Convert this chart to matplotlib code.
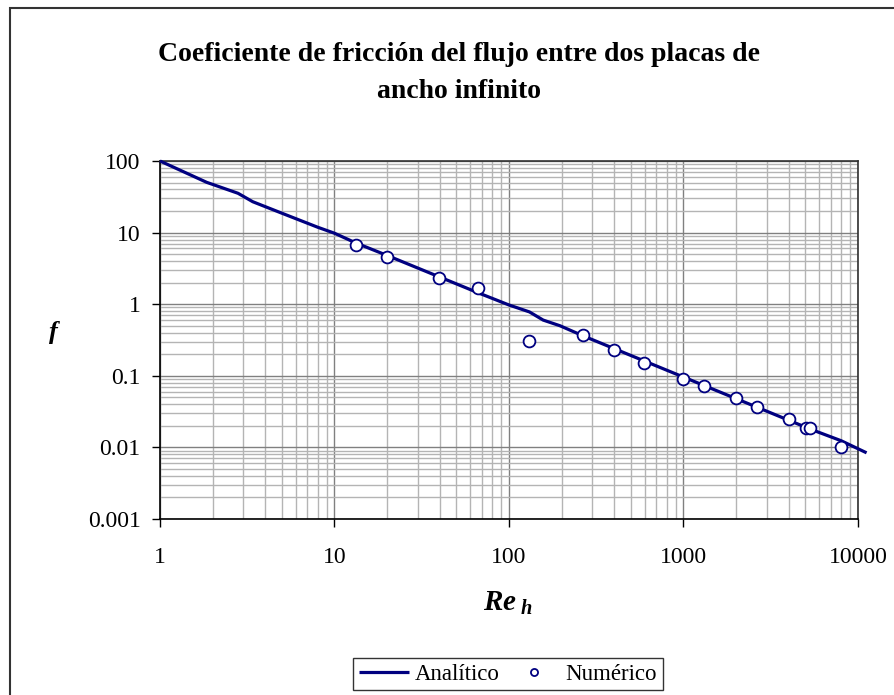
import matplotlib
matplotlib.use("Agg")
import matplotlib.pyplot as plt
from matplotlib.ticker import LogLocator, FixedLocator, FixedFormatter, NullFormatter
from matplotlib.patches import Rectangle

# ---- data ----
re_analitico = [1, 1.85, 2.8, 3.4, 4.9, 8, 10, 13.2, 20, 40, 66.7, 100, 131, 157, 196,
                264, 400, 600, 1000, 1315, 2000, 2626, 4000, 5000, 5300, 8000, 11200]
f_analitico = [100, 50.4, 35.4, 27, 19, 11.9, 9.8, 7.2, 4.8, 2.4, 1.44, 0.975, 0.78, 0.60, 0.50,
               0.364, 0.24, 0.16, 0.096, 0.073, 0.048, 0.0366, 0.024, 0.0192, 0.0181, 0.0124, 0.0084]

re_numerico = [13.2, 19.9, 39.9, 66.7, 131, 264, 398, 591, 993, 1315, 1991, 2626, 4007, 5012, 5309, 7990]
f_numerico = [6.78, 4.6, 2.34, 1.68, 0.309, 0.375, 0.229, 0.151, 0.0912, 0.072, 0.049, 0.0366,
              0.0252, 0.0188, 0.0188, 0.0101]

x_ticks = [1, 10, 100, 1000, 10000]
x_ticklabels = ["1", "10", "100", "1000", "10000"]
y_ticks = [0.001, 0.01, 0.1, 1, 10, 100]
y_ticklabels = ["0.001", "0.01", "0.1", "1", "10", "100"]

title_text = "Coeficiente de fricción del flujo entre dos placas de\nancho infinito"

# ---- style ----
plt.rcParams['font.family'] = ['Liberation Serif', 'DejaVu Serif']
plt.rcParams['mathtext.fontset'] = 'custom'
plt.rcParams['mathtext.it'] = 'Liberation Serif:italic:bold'
plt.rcParams['mathtext.rm'] = 'Liberation Serif:bold'

W, H = 895, 695
fig = plt.figure(figsize=(W / 100, H / 100), dpi=100)
fig.patch.set_facecolor('white')

# outer chart frame
fig.patches.append(Rectangle((10 / W, -0.02), 1.05, 1 - 8 / H + 0.02, transform=fig.transFigure,
                             fill=False, edgecolor='#333333', linewidth=1.5, zorder=0))

left, right, top, bottom = 160, 858, 161, 519
ax = fig.add_axes([left / W, 1 - bottom / H, (right - left) / W, (bottom - top) / H])

ax.set_xscale('log')
ax.set_yscale('log')
ax.set_xlim(1, 10000)
ax.set_ylim(0.001, 100)

ax.xaxis.set_major_locator(FixedLocator(x_ticks))
ax.xaxis.set_major_formatter(FixedFormatter(x_ticklabels))
ax.yaxis.set_major_locator(FixedLocator(y_ticks))
ax.yaxis.set_major_formatter(FixedFormatter(y_ticklabels))
ax.xaxis.set_minor_locator(LogLocator(base=10, subs=range(2, 10), numticks=20))
ax.yaxis.set_minor_locator(LogLocator(base=10, subs=range(2, 10), numticks=20))
ax.xaxis.set_minor_formatter(NullFormatter())
ax.yaxis.set_minor_formatter(NullFormatter())

ax.grid(True, which='minor', color='#b4b4b4', linewidth=1.0)
ax.grid(True, which='major', color='#808080', linewidth=1.0)
ax.set_axisbelow(True)

ax.tick_params(which='major', direction='out', length=6, width=1, colors='black',
               labelsize=17, pad=8)
ax.tick_params(axis='x', which='major', pad=14)
ax.tick_params(which='minor', length=0)

for s in ['left', 'bottom']:
    ax.spines[s].set_color('black')
    ax.spines[s].set_linewidth(1.2)
for s in ['top', 'right']:
    ax.spines[s].set_color('#303030')
    ax.spines[s].set_linewidth(1.2)

ax.plot(re_analitico, f_analitico, color='#000080', linewidth=2.3, label='Analítico',
        clip_on=False, zorder=3, solid_capstyle='butt')
ax.plot(re_numerico, f_numerico, linestyle='none', marker='o', markersize=8.5,
        markerfacecolor='white', markeredgecolor='#000080', markeredgewidth=1.3,
        label='Numérico', clip_on=False, zorder=4)

# axis labels
fig.text(53 / W, 1 - 333 / H, 'f', fontsize=19, fontweight='bold', fontstyle='italic',
         ha='center', va='center')
fig.text(508 / W, 1 - 603 / H, r'$Re_{\ h}$', fontsize=21, ha='center', va='center')

# title
fig.text(459 / W, 1 - 73 / H, title_text, fontsize=20, fontweight='bold',
         ha='center', va='center', linespacing=1.65)

# legend
leg = fig.legend(loc='center', bbox_to_anchor=(508 / W, 1 - 674 / H), ncol=2,
                 frameon=True, fancybox=False, fontsize=16.5, handlelength=2.2,
                 handletextpad=0.25, columnspacing=0.4, borderpad=0.25,
                 markerscale=0.6)
leg.get_frame().set_edgecolor('black')
leg.get_frame().set_linewidth(1.0)

fig.savefig('out.png', dpi=100, facecolor='white')
